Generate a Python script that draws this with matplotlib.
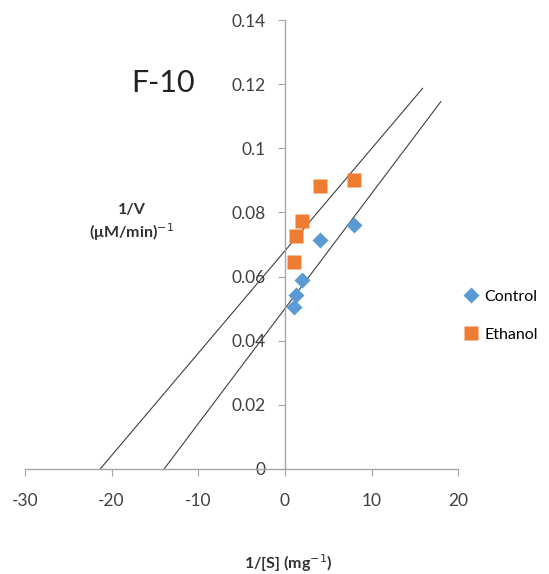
import numpy as np
import matplotlib.pyplot as plt

plt.rcParams['font.family'] = ['Lato', 'DejaVu Sans']
plt.rcParams['axes.unicode_minus'] = False

# данные (обратные координаты Лайнуивера-Берка)
inv_s = [1.0, 1.33, 2.0, 4.0, 8.0]
control_inv_v = [0.0506, 0.0543, 0.0590, 0.0714, 0.0761]
ethanol_inv_v = [0.0647, 0.0727, 0.0772, 0.0881, 0.0902]

# линии тренда: наклон, пересечение с осью y, диапазон x
control_slope, control_icpt = 0.003587, 0.0500
control_xrange = [-13.95, 18.0]
ethanol_slope, ethanol_icpt = 0.00319, 0.0680
ethanol_xrange = [-21.3, 15.9]

xticks = [-30, -20, -10, 0, 10, 20]
yticks = [0, 0.02, 0.04, 0.06, 0.08, 0.1, 0.12, 0.14]
ytick_labels = ['0', '0.02', '0.04', '0.06', '0.08', '0.1', '0.12', '0.14']

fig = plt.figure(figsize=(5.49, 5.74), dpi=100)
ax = fig.add_axes([0.0455, 0.183, 0.789, 0.782])

xe = np.array(ethanol_xrange)
ax.plot(xe, ethanol_slope * xe + ethanol_icpt, color='#404040', lw=0.8, zorder=2)
xc = np.array(control_xrange)
ax.plot(xc, control_slope * xc + control_icpt, color='#404040', lw=0.8, zorder=2)

ax.plot(inv_s, control_inv_v, 'D', color='#5b9bd5', ms=8, mec='none', label='Control', zorder=3)
ax.plot(inv_s, ethanol_inv_v, 's', color='#ed7d31', ms=10.5, mec='none', label='Ethanol', zorder=3)

ax.set_xlim(-30, 20)
ax.set_ylim(0, 0.14)
ax.spines['left'].set_position(('data', 0))
ax.spines['bottom'].set_position(('data', 0))
ax.spines['right'].set_visible(False)
ax.spines['top'].set_visible(False)
for s in ['left', 'bottom']:
    ax.spines[s].set_color('#a6a6a6')
    ax.spines[s].set_linewidth(1.0)

ax.set_xticks(xticks)
ax.set_yticks(yticks)
ax.set_yticklabels(ytick_labels)
ax.tick_params(axis='both', colors='#a6a6a6', labelcolor='#404040', labelsize=12.5,
               length=5, direction='out')
ax.tick_params(axis='x', pad=12)
ax.tick_params(axis='y', pad=9)

fig.text(0.297, 0.855, 'F-10', fontsize=22, ha='center', va='center', color='#222222')
fig.text(0.24, 0.611, '1/V\n(μM/min)$^{-1}$', fontsize=11.5, fontweight='bold',
         ha='center', va='center', linespacing=1.25, color='#333333')
fig.text(0.525, 0.019, '1/[S] (mg$^{-1}$)', fontsize=11.5, fontweight='bold',
         ha='center', va='center', color='#333333')

ax.legend(loc='center left', bbox_to_anchor=(0.838, 0.45), bbox_transform=fig.transFigure,
          frameon=False, fontsize=11.5, handlelength=0.6, handletextpad=0.5,
          labelspacing=1.5, borderaxespad=0)

fig.savefig('out.png', dpi=100)
